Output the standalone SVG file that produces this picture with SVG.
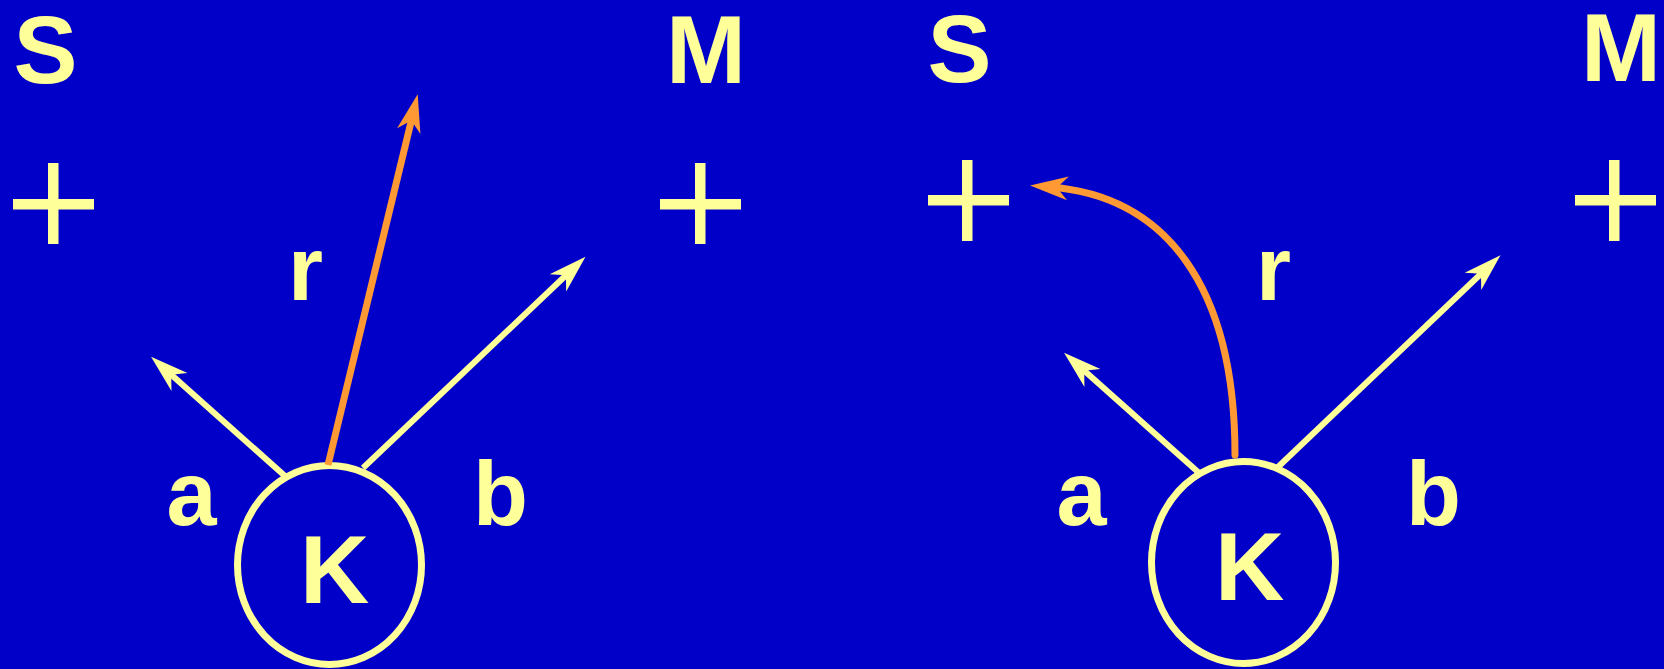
<svg xmlns="http://www.w3.org/2000/svg" width="1664" height="669" viewBox="0 0 1664 669">
<style>
.t{font-family:"Liberation Sans",Arial,sans-serif;font-weight:bold;font-size:96px;fill:#FFFF99}
.l{font-family:"Liberation Sans",Arial,sans-serif;font-weight:bold;font-size:90px;fill:#FFFF99}
.cr{fill:#FFFF99}
.node{fill:none;stroke:#FFFF99;stroke-width:7}
.y{fill:none;stroke:#FFFF99;stroke-width:6}
.o{fill:none;stroke:#FF9933;stroke-width:7}
</style>
<defs>
<marker id="ay" markerUnits="userSpaceOnUse" orient="auto" viewBox="-25 -15 50 30" markerWidth="50" markerHeight="30" refX="0" refY="0"><path d="M20,0 L-18,-12 L-7,0 L-18,12 Z" fill="#FFFF99"/></marker>
<marker id="ao" markerUnits="userSpaceOnUse" orient="auto" viewBox="-25 -15 50 30" markerWidth="50" markerHeight="30" refX="0" refY="0"><path d="M20,0 L-18,-12 L-7,0 L-18,12 Z" fill="#FF9933"/></marker>
</defs>
<rect width="1664" height="669" fill="#0000C8"/>

<g id="left-S"><text class="t" x="13.5" y="83">S</text><rect class="cr" x="48" y="163" width="10.5" height="81"/><rect class="cr" x="13" y="199" width="81" height="10.5"/></g>
<g id="left-M"><text class="t" x="666" y="83">M</text><rect class="cr" x="695" y="163" width="10.5" height="81"/><rect class="cr" x="660" y="199" width="81" height="10.5"/></g>
<g id="left-K"><ellipse class="node" cx="329.5" cy="565" rx="92" ry="99.5"/><text class="t" x="300" y="603">K</text></g>

<g id="right-S"><text class="t" x="927.5" y="82">S</text><rect class="cr" x="962" y="160" width="10.5" height="81"/><rect class="cr" x="928" y="195" width="81" height="10.5"/></g>
<g id="right-M"><text class="t" x="1581" y="81">M</text><rect class="cr" x="1609" y="160" width="10.5" height="81"/><rect class="cr" x="1575" y="195" width="81" height="10.5"/></g>
<g id="right-K"><ellipse class="node" cx="1243.5" cy="562.5" rx="92" ry="101"/><text class="t" x="1215" y="600">K</text></g>

<g id="connectors">
<path class="y" d="M285,476 L166,370" marker-end="url(#ay)"/>
<path class="y" d="M363,468 L571,270.5" marker-end="url(#ay)"/>
<path class="o" d="M328,465 L413,113.7" marker-end="url(#ao)"/>
<path class="y" d="M1198,472 L1079,366" marker-end="url(#ay)"/>
<path class="y" d="M1278,467 L1486,269" marker-end="url(#ay)"/>
<path class="o" d="M1235,455 C1235,285 1165,196 1050,187" stroke-linecap="round" marker-end="url(#ao)"/>
</g>

<g id="labels">
<text class="l" x="288" y="300">r</text>
<text class="l" x="166.4" y="525">a</text>
<text class="l" x="473" y="525">b</text>
<text class="l" x="1256" y="300">r</text>
<text class="l" x="1056.4" y="525">a</text>
<text class="l" x="1406" y="525">b</text>
</g>
</svg>
